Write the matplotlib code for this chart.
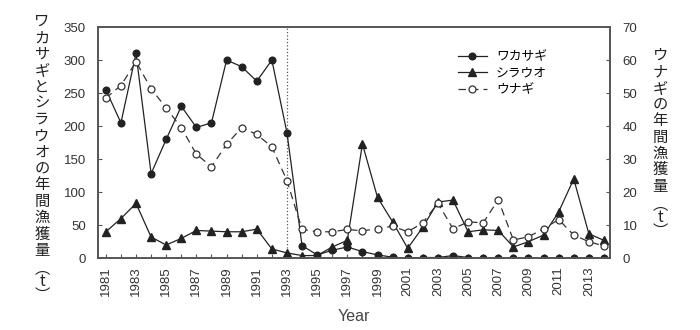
import numpy as np
import matplotlib.pyplot as plt

plt.rcParams['font.family'] = ['Liberation Sans', 'Noto Sans CJK JP', 'DejaVu Sans']

years = list(range(1981, 2015))
wakasagi = [255, 205, 310, 128, 180, 230, 198, 205, 300, 290, 268, 300, 190, 19, 5,
            12, 17, 10, 5, 1.5, 0, 1, 1, 4, 1, 0, 0, 0, 0, 0, 0, 0, 0, 0]
shirauo = [40, 60, 83, 32, 20, 30, 42, 41, 40, 40, 44, 14, 8, 4, 4,
           17, 27, 173, 92, 55, 15, 47, 85, 88, 40, 43, 42, 17, 25, 35, 70, 120, 37, 27]
unagi = [48.5, 52.3, 59.5, 51.3, 45.5, 39.5, 31.5, 27.7, 34.5, 39.5, 37.5, 33.7, 23.5, 8.7, 8,
         8, 8.7, 8.3, 8.9, 9.7, 8, 10.7, 16.7, 8.9, 11, 10.7, 17.7, 5.5, 6.5, 8.9, 11.7, 7, 5, 3.7]
names = ['ワカサギ', 'シラウオ', 'ウナギ']
left_label = 'ワカサギとシラウオの年間漁獲量'
right_label = 'ウナギの年間漁獲量'
unit = '︵t︶'

ink = '#222222'
fig = plt.figure(figsize=(7, 3.3), dpi=100)
ax = fig.add_axes([0.1404, 0.2176, 0.7310, 0.7004])
ax2 = ax.twinx()

ax.axvline(1993, color='#555555', ls=':', lw=0.9, zorder=1)
l1, = ax.plot(years, wakasagi, color=ink, lw=0.9, marker='o', ms=4.8,
              mfc=ink, mec=ink, label=names[0])
l2, = ax.plot(years, shirauo, color=ink, lw=0.9, marker='^', ms=5.6,
              mfc=ink, mec=ink, label=names[1])
l3, = ax2.plot(years, unagi, color='#333333', lw=0.9, ls=(0, (6, 4)), marker='o', ms=5,
               mfc='white', mec='#333333', mew=0.9, label=names[2])

ax.set_xlim(1980.5, 2014.4)
ax.set_ylim(0, 350)
ax2.set_ylim(0, 70)
ax.set_yticks(np.arange(0, 351, 50))
ax2.set_yticks(np.arange(0, 71, 10))
ax.set_xticks(years)
ax.set_xticklabels([str(y) if (y - 1981) % 2 == 0 else '' for y in years], rotation=90)

for a in (ax, ax2):
    a.tick_params(direction='in', length=3, width=0.8, colors='#555555',
                  labelcolor='#333333', labelsize=9.5)
    a.tick_params(axis='y', pad=9)
    a.tick_params(axis='x', pad=6)
    for s in a.spines.values():
        s.set_color('#555555')
        s.set_linewidth(1.2)

ax.set_xlabel('Year', fontsize=11.5, color='#444444', labelpad=9)

ax2.legend(handles=[l1, l2, l3], loc='upper left', bbox_to_anchor=(0.654, 0.845),
           bbox_transform=fig.transFigure, frameon=False, fontsize=9.2,
           handlelength=2.3, handletextpad=0.7, labelspacing=0.35,
           borderpad=0, borderaxespad=0)

# vertical axis titles, one character per line, unit set a little tighter
jp = ['Noto Sans CJK JP', 'DejaVu Sans']
fig.text(0.060, 1 - 13 / 330, '\n'.join(left_label), family=jp, fontsize=11,
         ha='center', va='top', linespacing=0.95, color=ink)
fig.text(0.060, 1 - 260 / 330, '\n'.join(unit), family=jp, fontsize=11,
         ha='center', va='top', linespacing=0.72, color=ink)
fig.text(0.943, 1 - 47 / 330, '\n'.join(right_label), family=jp, fontsize=11,
         ha='center', va='top', linespacing=0.95, color=ink)
fig.text(0.943, 1 - 196 / 330, '\n'.join(unit), family=jp, fontsize=11,
         ha='center', va='top', linespacing=0.72, color=ink)

fig.savefig('out.png', dpi=100)
